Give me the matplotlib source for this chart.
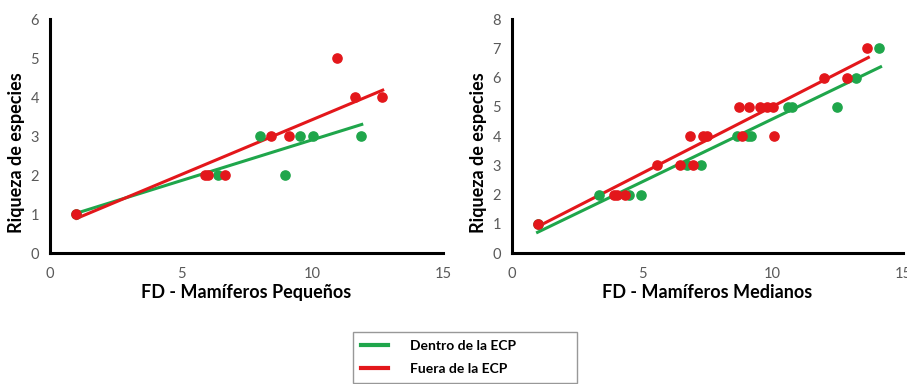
import matplotlib.pyplot as plt
from matplotlib.lines import Line2D

plt.rcParams['font.family'] = ['Lato', 'DejaVu Sans']

green = "#1fa64b"
red = "#e3171b"
tick_color = "#595959"

# Mamíferos pequeños
peq_dentro_x = [1.0, 6.42, 8.03, 8.96, 9.53, 10.04, 11.86]
peq_dentro_y = [1, 2, 3, 2, 3, 3, 3]
peq_fuera_x = [1.0, 5.9, 6.04, 6.67, 8.42, 9.11, 10.97, 11.66, 12.68]
peq_fuera_y = [1, 2, 2, 2, 3, 3, 5, 4, 4]
# lineas de tendencia (extremos)
peq_dentro_trend_x = [1.0, 11.9]
peq_dentro_trend_y = [1.02, 3.30]
peq_fuera_trend_x = [1.02, 12.7]
peq_fuera_trend_y = [0.89, 4.18]

# Mamíferos medianos
med_dentro_x = [1.0, 3.32, 4.5, 4.96, 6.7, 7.24, 8.62, 9.07, 9.17, 10.6, 10.73, 12.48, 13.19, 14.09]
med_dentro_y = [1, 2, 2, 2, 3, 3, 4, 4, 4, 5, 5, 5, 6, 7]
med_fuera_x = [1.0, 3.9, 4.02, 4.34, 5.56, 6.45, 6.81, 6.94, 7.31, 7.47, 8.72, 8.81,
               9.09, 9.51, 9.80, 10.03, 10.05, 11.97, 12.86, 13.63]
med_fuera_y = [1, 2, 2, 2, 3, 3, 4, 3, 4, 4, 5, 4, 5, 5, 5, 5, 4, 6, 6, 7]
med_dentro_trend_x = [0.98, 14.14]
med_dentro_trend_y = [0.71, 6.37]
med_fuera_trend_x = [1.02, 13.67]
med_fuera_trend_y = [0.92, 6.69]

fig = plt.figure(figsize=(9.07, 3.84), dpi=100)
ax1 = fig.add_axes([0.0551, 0.341, 0.4333, 0.609])
ax2 = fig.add_axes([0.5645, 0.341, 0.4311, 0.609])


def style(ax, ymax, xlabel):
    ax.set_xlim(0, 15)
    ax.set_ylim(0, ymax)
    ax.set_xticks([0, 5, 10, 15])
    ax.set_yticks(range(0, ymax + 1))
    for s in ["top", "right"]:
        ax.spines[s].set_visible(False)
    for s in ["left", "bottom"]:
        ax.spines[s].set_linewidth(2.2)
        ax.spines[s].set_color("black")
    ax.tick_params(length=0, labelsize=10.5, labelcolor=tick_color)
    ax.tick_params(axis="x", pad=10)
    ax.tick_params(axis="y", pad=8)
    ax.set_xlabel(xlabel, fontsize=13, fontweight="bold", labelpad=2)
    ax.set_ylabel("Riqueza de especies", fontsize=13, fontweight="bold")
    ax.yaxis.set_label_coords(-0.064, 0.43)


ax1.scatter(peq_dentro_x, peq_dentro_y, s=44, color=green, zorder=3, clip_on=False)
ax1.scatter(peq_fuera_x, peq_fuera_y, s=44, color=red, zorder=3, clip_on=False)
ax1.plot(peq_dentro_trend_x, peq_dentro_trend_y, color=green, lw=2.2, zorder=2)
ax1.plot(peq_fuera_trend_x, peq_fuera_trend_y, color=red, lw=2.2, zorder=2)
style(ax1, 6, "FD - Mamíferos Pequeños")

ax2.scatter(med_dentro_x, med_dentro_y, s=44, color=green, zorder=3, clip_on=False)
ax2.scatter(med_fuera_x, med_fuera_y, s=44, color=red, zorder=3, clip_on=False)
ax2.plot(med_dentro_trend_x, med_dentro_trend_y, color=green, lw=2.2, zorder=2)
ax2.plot(med_fuera_trend_x, med_fuera_trend_y, color=red, lw=2.2, zorder=2)
style(ax2, 8, "FD - Mamíferos Medianos")

handles = [Line2D([0], [0], color=green, lw=3),
           Line2D([0], [0], color=red, lw=3)]
leg = fig.legend(handles, ["Dentro de la ECP", "Fuera de la ECP"],
                 loc="upper left", bbox_to_anchor=(353 / 907, 1 - 332 / 384, 224 / 907, 0),
                 mode="expand", fancybox=False, edgecolor="#7f7f7f",
                 prop={"weight": "bold", "size": 10}, handlelength=1.9,
                 handletextpad=1.6, borderpad=0.6, labelspacing=0.75,
                 borderaxespad=0)
leg.get_frame().set_linewidth(1.0)

fig.savefig("out.png", dpi=100)
